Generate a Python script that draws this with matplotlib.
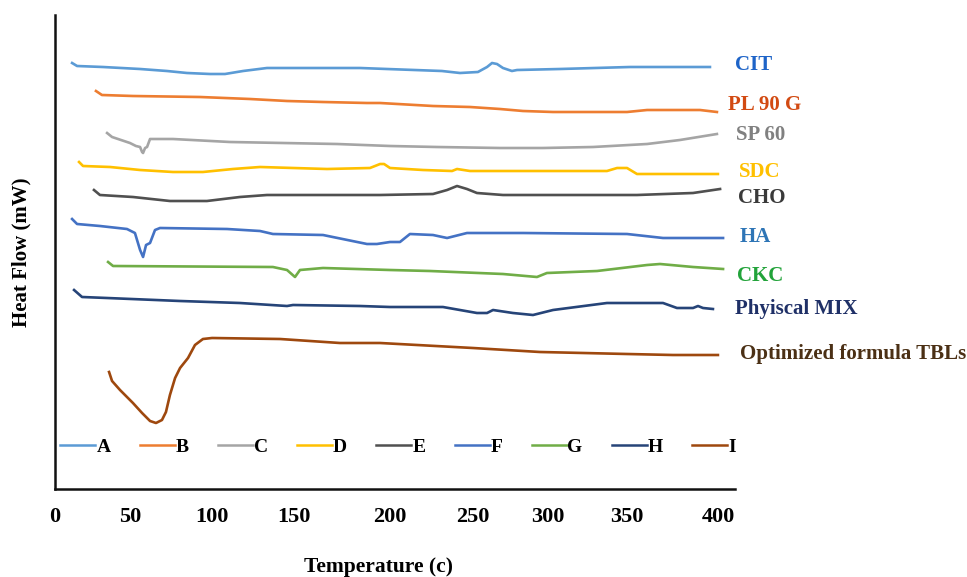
import matplotlib
matplotlib.use("Agg")
import matplotlib.pyplot as plt

plt.rcParams['font.family'] = ['Liberation Serif', 'DejaVu Serif']
plt.rcParams['font.weight'] = 'bold'

# ---- data (temperature, heat flow in arbitrary units) ----
A_t = [10.3, 13.3, 28.9, 51.3, 67.5, 79.6, 93.5, 102.5, 113.4, 127.8, 183.9, 200.2, 233.3, 244.2, 255.0, 260.5, 263.5, 266.5, 270.1, 275.5, 278.6, 304.5, 346.7, 394.9]
A_y = [426, 423, 422, 420, 418, 416, 415, 415, 418, 421, 421, 420, 418, 416, 417, 422, 426, 425, 421, 418, 419, 420, 422, 422]

B_t = [24.7, 28.3, 47.0, 87.4, 117.6, 139.9, 161.6, 188.1, 196.0, 227.9, 250.2, 268.3, 282.2, 300.3, 344.9, 357.0, 375.0, 388.9, 399.1]
B_y = [398, 394, 393, 392, 390, 388, 387, 386, 386, 383, 382, 380, 378, 377, 377, 379, 379, 379, 377]

C_t = [31.4, 34.4, 45.2, 48.8, 51.3, 52.5, 53.1, 54.3, 55.5, 57.3, 71.1, 105.5, 137.5, 170.0, 202.0, 230.3, 268.3, 294.2, 324.4, 357.0, 376.8, 399.1]
C_y = [356, 352, 346, 343, 342, 337, 336, 341, 342, 350, 350, 347, 346, 345, 343, 342, 341, 341, 342, 345, 349, 355]

D_t = [14.5, 16.9, 33.2, 51.3, 71.1, 89.2, 107.3, 123.6, 164.0, 189.9, 196.0, 198.4, 202.0, 221.9, 239.4, 242.4, 250.2, 332.8, 338.9, 344.9, 350.9, 399.7]
D_y = [327, 323, 322, 319, 317, 317, 320, 322, 320, 321, 325, 325, 321, 319, 318, 320, 318, 318, 321, 321, 315, 315]

E_t = [23.5, 27.1, 47.0, 69.3, 91.6, 111.5, 127.8, 196.0, 227.9, 236.4, 242.4, 248.4, 254.4, 270.1, 350.9, 384.7, 401.0]
E_y = [299, 294, 292, 288, 288, 292, 294, 294, 295, 299, 303, 300, 296, 294, 294, 296, 300]

F_t = [10.3, 13.3, 27.1, 43.4, 48.2, 51.3, 53.1, 54.9, 57.3, 60.3, 63.3, 103.7, 123.6, 131.4, 161.6, 188.1, 194.1, 202.0, 208.0, 214.0, 227.9, 236.4, 248.4, 268.3, 282.2, 344.9, 366.6, 402.8]
F_y = [270, 265, 263, 260, 256, 239, 232, 244, 246, 259, 261, 260, 258, 255, 254, 245, 245, 247, 247, 255, 254, 251, 256, 256, 256, 255, 251, 251]

G_t = [32.0, 35.0, 131.4, 139.9, 144.7, 147.7, 161.6, 202.0, 226.1, 270.1, 290.6, 296.6, 326.8, 357.0, 364.8, 384.7, 402.8]
G_y = [227, 223, 222, 219, 212, 219, 221, 219, 218, 215, 212, 216, 218, 224, 225, 222, 220]

H_t = [11.5, 16.3, 31.4, 75.4, 111.5, 139.9, 143.5, 183.9, 202.0, 233.9, 254.4, 260.5, 264.1, 276.1, 288.2, 300.3, 332.8, 366.6, 375.0, 384.7, 387.7, 390.7, 396.7]
H_y = [199, 192, 191, 188, 186, 183, 184, 183, 182, 182, 176, 176, 179, 176, 174, 179, 186, 186, 181, 181, 183, 181, 180]

I_t = [32.6, 34.4, 39.2, 47.0, 52.5, 57.3, 60.9, 64.5, 66.9, 69.3, 72.4, 75.4, 80.2, 84.4, 89.2, 94.7, 135.7, 171.8, 196.0, 252.0, 292.4, 344.9, 372.6, 399.7]
I_y = [117, 108, 99, 86, 76, 68, 66, 69, 77, 94, 111, 121, 131, 144, 150, 151, 150, 146, 146, 141, 137, 135, 134, 134]

series_keys = ['A', 'B', 'C', 'D', 'E', 'F', 'G', 'H', 'I']
series_t = [A_t, B_t, C_t, D_t, E_t, F_t, G_t, H_t, I_t]
series_y = [A_y, B_y, C_y, D_y, E_y, F_y, G_y, H_y, I_y]
line_colors = ['#5B9BD5', '#ED7D31', '#A5A5A5', '#FFC000', '#505050',
               '#4472C4', '#70AD47', '#264478', '#9E480E']

sample_names = ['CIT', 'PL 90 G', 'SP 60', 'SDC', 'CHO', 'HA', 'CKC',
                'Phyiscal MIX', 'Optimized formula TBLs']
name_colors = ['#1E64C8', '#D24A12', '#808080', '#FFC000', '#3A3A3A',
               '#2E75B6', '#22A33A', '#1F3067', '#4B3015']
name_t = [410.0, 405.8, 410.6, 412.4, 411.8, 413.0, 411.2, 410.0, 413.0]
name_y = [424, 384, 354, 317, 291, 252, 213, 180, 135]

tick_pos = [0, 45.2, 94.7, 144.1, 202.0, 252.0, 297.3, 344.9, 399.8]
tick_labels = ['0', '50', '100', '150', '200', '250', '300', '350', '400']

# ---- figure ----
fig = plt.figure(figsize=(9.67, 5.77), dpi=100)
ax = fig.add_axes([55 / 967, 88 / 577, 680 / 967, 474 / 577])

for key, t, y, c in zip(series_keys, series_t, series_y, line_colors):
    ax.plot(t, y, color=c, lw=1.9, label=key, solid_joinstyle='round')

for name, c, t, y in zip(sample_names, name_colors, name_t, name_y):
    ax.text(t, y, name, color=c, fontsize=15, fontweight='bold',
            ha='left', va='center', clip_on=False)

ax.set_xlim(0, 410)
ax.set_ylim(0, 474)
ax.set_yticks([])
ax.set_xticks(tick_pos)
ax.set_xticklabels(tick_labels, fontsize=16, fontweight='bold')
ax.tick_params(axis='x', length=0, pad=13)
for s in ['top', 'right']:
    ax.spines[s].set_visible(False)
for s in ['left', 'bottom']:
    ax.spines[s].set_linewidth(1.8)
    ax.spines[s].set_color('#111111')

leg = ax.legend(loc='center left', bbox_to_anchor=(0.008, 0.0886), ncol=9,
                frameon=False, fontsize=14, handlelength=1.8,
                handletextpad=0.05, columnspacing=1.5, borderpad=0,
                borderaxespad=0)
for line in leg.get_lines():
    line.set_linewidth(1.8)

fig.text(379 / 967, 1 - 567 / 577, 'Temperature (c)', fontsize=15.5,
         fontweight='bold', ha='center', va='center')
fig.text(21 / 967, 1 - 252 / 577, 'Heat Flow (mW)', fontsize=15,
         fontweight='bold', ha='center', va='center', rotation=90)

fig.savefig('out.png', dpi=100)
